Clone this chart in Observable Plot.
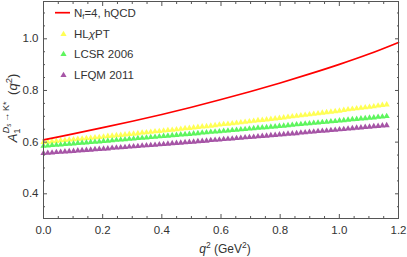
<!DOCTYPE html>
<html><head><meta charset="utf-8">
<script src="https://cdn.jsdelivr.net/npm/d3@7"></script>
<script src="https://cdn.jsdelivr.net/npm/@observablehq/plot@0.6"></script>
<style>body{margin:0;background:#fff} svg{display:block}</style>
</head><body><div id="chart"></div>
<script>
// sample positions (q^2 in GeV^2) of the triangle series
const q2 = [0,0.0145,0.029,0.0435,0.058,0.0725,0.087,0.1015,0.116,0.1305,0.145,0.1595,0.174,0.1885,0.203,0.2175,0.232,0.2465,0.261,0.2755,0.29,0.3045,0.319,0.3335,0.348,0.3625,0.377,0.3915,0.406,0.4205,0.435,0.4495,0.464,0.4785,0.493,0.5075,0.522,0.5365,0.551,0.5655,0.58,0.5945,0.609,0.6235,0.638,0.6525,0.667,0.6815,0.696,0.7105,0.725,0.7395,0.754,0.7685,0.783,0.7975,0.812,0.8265,0.841,0.8555,0.87,0.8845,0.899,0.9135,0.928,0.9425,0.957,0.9715,0.986,1.0005,1.015,1.0295,1.044,1.0585,1.073,1.0875,1.102,1.1165,1.131,1.1455,1.16];
const hlchpt = [0.600,0.601,0.603,0.604,0.606,0.607,0.609,0.610,0.612,0.613,0.615,0.616,0.618,0.619,0.621,0.623,0.624,0.626,0.627,0.629,0.631,0.632,0.634,0.636,0.637,0.639,0.641,0.642,0.644,0.646,0.647,0.649,0.651,0.653,0.654,0.656,0.658,0.660,0.661,0.663,0.665,0.667,0.669,0.670,0.672,0.674,0.676,0.678,0.680,0.682,0.684,0.685,0.687,0.689,0.691,0.693,0.695,0.697,0.699,0.701,0.703,0.705,0.707,0.709,0.711,0.713,0.715,0.717,0.719,0.721,0.724,0.726,0.728,0.730,0.732,0.734,0.736,0.738,0.741,0.743,0.745];
const lcsr2006 = [0.585,0.586,0.588,0.589,0.590,0.592,0.593,0.594,0.596,0.597,0.598,0.600,0.601,0.602,0.604,0.605,0.606,0.608,0.609,0.610,0.612,0.613,0.615,0.616,0.617,0.619,0.620,0.622,0.623,0.624,0.626,0.627,0.629,0.630,0.631,0.633,0.634,0.636,0.637,0.639,0.640,0.641,0.643,0.644,0.646,0.647,0.649,0.650,0.652,0.653,0.655,0.656,0.657,0.659,0.660,0.662,0.663,0.665,0.666,0.668,0.669,0.671,0.672,0.674,0.675,0.677,0.678,0.680,0.681,0.683,0.684,0.686,0.688,0.689,0.691,0.692,0.694,0.695,0.697,0.698,0.700];
const lfqm2011 = [0.557,0.558,0.559,0.561,0.562,0.563,0.564,0.565,0.567,0.568,0.569,0.570,0.572,0.573,0.574,0.575,0.577,0.578,0.579,0.580,0.582,0.583,0.584,0.586,0.587,0.588,0.589,0.591,0.592,0.593,0.595,0.596,0.597,0.599,0.600,0.601,0.603,0.604,0.605,0.607,0.608,0.609,0.611,0.612,0.613,0.615,0.616,0.618,0.619,0.620,0.622,0.623,0.624,0.626,0.627,0.629,0.630,0.632,0.633,0.634,0.636,0.637,0.639,0.640,0.642,0.643,0.644,0.646,0.647,0.649,0.650,0.652,0.653,0.655,0.656,0.658,0.659,0.661,0.662,0.664,0.665];
// hQCD curve
const qLine = [0,0.1,0.2,0.3,0.4,0.5,0.6,0.7,0.8,0.9,1.0,1.1,1.2];
const hqcd = [0.609,0.632,0.656,0.681,0.707,0.735,0.765,0.796,0.829,0.864,0.901,0.941,0.986];
// ticks
const majorX = [0,0.2,0.4,0.6,0.8,1.0,1.2];
const minorX = [0.05,0.1,0.15,0.25,0.3,0.35,0.45,0.5,0.55,0.65,0.7,0.75,0.85,0.9,0.95,1.05,1.1,1.15];
const majorY = [0.4,0.6,0.8,1.0];
const minorY = [0.35,0.45,0.5,0.55,0.65,0.7,0.75,0.85,0.9,0.95,1.05,1.1];

const colors = {line:"#ff0000", hl:"#ffff55", lcsr:"#5ef55e", lfqm:"#a655a6"};
const mk = (xs, ys) => xs.map((q,i) => ({q, v: ys[i]}));
const ax = "#555";
const chart = Plot.plot({
  width: 407, height: 257,
  marginLeft: 43, marginRight: 9, marginTop: 1, marginBottom: 39,
  style: {fontFamily: "Liberation Sans, Arial, sans-serif", fontSize: "11.5px", color: "#333", background: "#fff"},
  x: {domain: [0, 1.2]},
  y: {domain: [0.3044, 1.1444]},
  marks: [
    Plot.dot(mk(q2, hlchpt), {x:"q", y:"v", symbol:"triangle", r:2.3, fill:colors.hl}),
    Plot.dot(mk(q2, lcsr2006), {x:"q", y:"v", symbol:"triangle", r:2.3, fill:colors.lcsr}),
    Plot.dot(mk(q2, lfqm2011), {x:"q", y:"v", symbol:"triangle", r:2.3, fill:colors.lfqm}),
    Plot.line(mk(qLine, hqcd), {x:"q", y:"v", stroke:colors.line, strokeWidth:1.7, curve:"catmull-rom"}),
    Plot.axisX(majorX, {anchor:"bottom", tickSize:-4, tickPadding:11, tickFormat:d=>d.toFixed(1), stroke:ax, label:null, fontSize:11.5}),
    Plot.axisX(minorX, {anchor:"bottom", tickSize:-2, tickFormat:()=>"", stroke:ax, label:null}),
    Plot.axisX(majorX, {anchor:"top", tickSize:-4, tickFormat:()=>"", stroke:ax, label:null}),
    Plot.axisX(minorX, {anchor:"top", tickSize:-2, tickFormat:()=>"", stroke:ax, label:null}),
    Plot.axisY(majorY, {anchor:"left", tickSize:-4, tickPadding:9, tickFormat:d=>d.toFixed(1), stroke:ax, label:null, fontSize:11.5}),
    Plot.axisY(minorY, {anchor:"left", tickSize:-2, tickFormat:()=>"", stroke:ax, label:null}),
    Plot.axisY(majorY, {anchor:"right", tickSize:-4, tickFormat:()=>"", stroke:ax, label:null}),
    Plot.axisY(minorY, {anchor:"right", tickSize:-2, tickFormat:()=>"", stroke:ax, label:null}),
    Plot.frame({stroke: ax})
  ]
});
document.getElementById("chart").appendChild(chart);

// axis titles and legend
const svg = d3.select(chart);
const g = svg.append("g").attr("font-family","Liberation Sans, Arial, sans-serif").attr("fill","#333").attr("text-anchor","start");
// x title
const xt = g.append("text").attr("x",225).attr("y",253).attr("text-anchor","middle").attr("font-size",12);
xt.append("tspan").attr("font-style","italic").text("q");
xt.append("tspan").attr("dy",-5).attr("font-size",8.5).text("2");
xt.append("tspan").attr("dy",5).text(" (GeV");
xt.append("tspan").attr("dy",-5).attr("font-size",8.5).text("2");
xt.append("tspan").attr("dy",5).text(")");
// y title
const yt = g.append("text").attr("transform","translate(16.5,108) rotate(-90)").attr("text-anchor","middle").attr("font-size",13);
yt.append("tspan").attr("font-style","italic").text("A");
yt.append("tspan").attr("dy",3.5).attr("font-size",9.5).text("1");
yt.append("tspan").attr("dx",-5).attr("dy",-11).attr("font-size",9).attr("font-style","italic").text("D");
yt.append("tspan").attr("dy",2).attr("font-size",6.5).attr("font-style","italic").text("s");
yt.append("tspan").attr("dy",-2).attr("font-size",9).text("\u2009\u2192\u2009K");
yt.append("tspan").attr("font-size",9).text("*");
yt.append("tspan").attr("dy",7.5).attr("dx",3).text(" (");
yt.append("tspan").attr("font-style","italic").text("q");
yt.append("tspan").attr("dy",-5).attr("font-size",9.5).text("2");
yt.append("tspan").attr("dy",5).text(")");
// legend
const lg = g.append("g").attr("font-size",11.5).attr("text-anchor","start");
lg.append("line").attr("x1",55).attr("x2",70).attr("y1",12.7).attr("y2",12.7).attr("stroke",colors.line).attr("stroke-width",1.7);
const t0 = lg.append("text").attr("x",74).attr("y",16.7).attr("text-anchor","start");
t0.append("tspan").text("N");
t0.append("tspan").attr("dy",2.5).attr("font-size",7.5).text("f");
t0.append("tspan").attr("dy",-2.5).text("=4, hQCD");
const tri = d3.symbol(d3.symbolTriangle, Math.PI*2.3*2.3);
[["HL",34.3,colors.hl],["LCSR 2006",54.3,colors.lcsr],["LFQM 2011",75.3,colors.lfqm]].forEach(([lab,y,c],i)=>{
  lg.append("path").attr("d",tri()).attr("transform",`translate(63.5,${y})`).attr("fill",c);
  const t = lg.append("text").attr("x",74).attr("y",y+4).attr("text-anchor","start");
  if (i===0) {
    t.append("tspan").text("HL");
    t.append("tspan").attr("font-style","italic").text("\u03c7");
    t.append("tspan").text("PT");
  } else t.text(lab);
});
</script></body></html>
